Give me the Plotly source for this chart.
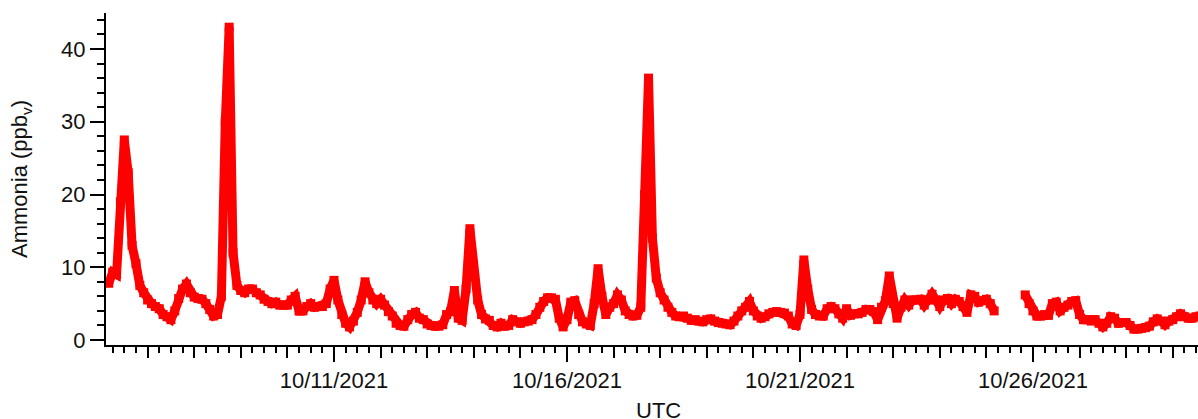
import pandas as pd
import plotly.graph_objects as go

# ---- data (2-hourly readings, ppbv), first reading 2021-10-06 04:00 UTC ----
start_time = "2021-10-06 04:00"
step = "2h"
d1006 = [7.8, 9.3, 9.0, 19.0, 27.5, 23.0, 13.0, 10.5, 7.5, 6.5]
d1007 = [5.5, 5.0, 4.6, 4.3, 3.5, 3.2, 2.8, 4.0, 5.7, 7.0, 7.7, 6.5]
d1008 = [5.9, 5.7, 5.6, 5.0, 4.2, 3.3, 3.5, 6.0, 30.0, 43.0, 12.0, 7.5]
d1009 = [6.8, 6.5, 7.0, 7.0, 6.5, 6.2, 5.6, 5.3, 5.0, 5.2, 4.8, 4.8]
d1010 = [4.8, 5.5, 6.0, 4.0, 4.0, 4.6, 5.0, 4.5, 4.6, 4.6, 5.0, 7.0]
d1011 = [8.2, 5.5, 3.5, 2.3, 1.8, 2.6, 3.8, 5.5, 8.0, 6.5, 5.5, 5.0]
d1012 = [5.6, 4.8, 3.9, 3.3, 2.3, 2.0, 1.9, 2.8, 3.5, 3.8, 3.0, 2.8]
d1013 = [2.2, 2.0, 1.9, 1.9, 2.1, 3.5, 3.9, 6.8, 3.0, 2.7, 7.0, 15.3]
d1014 = [9.0, 5.5, 3.5, 2.9, 2.7, 2.0, 1.8, 2.3, 1.9, 2.0, 2.8, 2.5]
d1015 = [2.3, 2.5, 2.6, 2.8, 3.5, 4.5, 5.3, 5.8, 5.8, 5.6, 3.0, 1.8]
d1016 = [2.8, 5.2, 5.4, 3.5, 2.5, 2.2, 2.0, 5.0, 9.8, 6.0, 3.5, 4.5]
d1017 = [5.0, 6.2, 5.5, 4.0, 3.5, 3.3, 3.4, 4.5, 20.0, 36.0, 14.0, 8.5]
d1018 = [6.5, 5.5, 4.5, 3.8, 3.3, 3.2, 3.3, 3.0, 2.7, 2.8, 2.6, 2.5]
d1019 = [2.8, 2.9, 2.6, 2.4, 2.3, 2.2, 2.1, 2.6, 3.3, 4.0, 4.5, 5.3]
d1020 = [4.0, 3.3, 3.0, 3.2, 3.6, 3.8, 3.9, 3.8, 3.7, 3.3, 2.2, 2.0]
d1021 = [3.5, 11.0, 7.0, 4.2, 3.5, 3.3, 3.3, 4.3, 4.6, 4.3, 3.6, 3.0]
d1022 = [4.3, 3.4, 3.6, 3.6, 3.8, 4.2, 4.2, 3.9, 2.8, 4.5, 5.4, 8.8]
d1023 = [5.0, 3.0, 4.5, 5.5, 4.8, 5.5, 5.5, 5.6, 4.8, 5.5, 6.3, 5.5]
d1024 = [4.6, 5.5, 5.7, 5.0, 5.6, 5.3, 4.6, 3.8, 6.2, 6.0, 5.2, 5.4]
d1025 = [5.6, 5.0, 4.0, None, None, None, None, None, None, None, 6.2, 5.0]
d1026 = [4.0, 3.3, 3.3, 3.5, 3.4, 5.0, 5.2, 4.0, 4.5, 4.8, 5.3, 5.4]
d1027 = [3.5, 2.8, 2.8, 2.6, 2.8, 2.3, 1.8, 2.3, 3.2, 3.0, 2.3, 2.4]
d1028 = [2.4, 2.0, 1.5, 1.5, 1.6, 1.7, 1.9, 2.5, 2.9, 2.6, 2.1, 2.6]
d1029 = [2.8, 3.2, 3.6, 3.2, 3.0, 3.0, 3.2, 3.3]

label_dates = ["2021-10-11", "2021-10-16", "2021-10-21", "2021-10-26"]
label_text = ["10/11/2021", "10/16/2021", "10/21/2021", "10/26/2021"]
x_range = ["2021-10-06 02:34", "2021-10-29 13:00"]
y_range = [-0.687, 44.95]
y_title = "Ammonia (ppb<sub>v</sub>)"
x_title = "UTC"

ammonia = (d1006 + d1007 + d1008 + d1009 + d1010 + d1011 + d1012 + d1013 +
           d1014 + d1015 + d1016 + d1017 + d1018 + d1019 + d1020 + d1021 +
           d1022 + d1023 + d1024 + d1025 + d1026 + d1027 + d1028 + d1029)
times = pd.date_range(start_time, periods=len(ammonia), freq=step)

FONT = "Liberation Sans, Arial, sans-serif"
FS = 22
RED = "#FF0000"
TXT = "#111111"

fig = go.Figure()
fig.add_trace(go.Scatter(
    x=times, y=ammonia, mode="lines+markers",
    line=dict(color=RED, width=9),
    marker=dict(symbol="square", size=9, color=RED, line=dict(width=0)),
    connectgaps=False, showlegend=False, hoverinfo="x+y",
))
# empty trace so that the labelled (long-tick) date axis is drawn
fig.add_trace(go.Scatter(x=[], y=[], xaxis="x2", yaxis="y",
                         showlegend=False, hoverinfo="skip"))

fig.update_layout(
    width=1198, height=419,
    margin=dict(l=106, r=0, t=13, b=74),
    paper_bgcolor="white", plot_bgcolor="white",
    font=dict(family=FONT, size=FS, color=TXT),
    showlegend=False,
    xaxis=dict(
        type="date", range=x_range,
        showline=True, linecolor="black", linewidth=2, mirror=False,
        showgrid=False, zeroline=False,
        ticks="outside", ticklen=11, tickwidth=2, tickcolor="black",
        tickmode="linear", tick0="2021-10-01", dtick=86400000,
        showticklabels=False,
        minor=dict(ticks="outside", ticklen=6, tickwidth=2, tickcolor="black",
                   tick0="2021-10-01", dtick=6 * 3600000, showgrid=False),
    ),
    xaxis2=dict(
        type="date", range=x_range, overlaying="x", anchor="y", side="bottom",
        showline=False, showgrid=False, zeroline=False,
        ticks="outside", ticklen=16, tickwidth=2, tickcolor="black",
        tickmode="array", tickvals=label_dates, ticktext=label_text,
        tickfont=dict(family=FONT, size=FS, color=TXT),
    ),
    yaxis=dict(
        range=y_range,
        showline=True, linecolor="black", linewidth=2,
        showgrid=False, zeroline=False,
        ticks="outside", ticklen=14, tickwidth=2, tickcolor="black",
        tickmode="linear", tick0=0, dtick=10,
        tickfont=dict(family=FONT, size=FS, color=TXT),
        minor=dict(ticks="outside", ticklen=7, tickwidth=2, tickcolor="black",
                   tick0=0, dtick=2, showgrid=False),
        title=dict(text=y_title, font=dict(family=FONT, size=FS, color=TXT),
                   standoff=27),
    ),
    annotations=[dict(
        text=x_title, xref="paper", yref="paper", x=0.5055, y=-0.155,
        xanchor="center", yanchor="top", showarrow=False,
        font=dict(family=FONT, size=FS, color=TXT),
    )],
)

fig.write_html("out.html")
